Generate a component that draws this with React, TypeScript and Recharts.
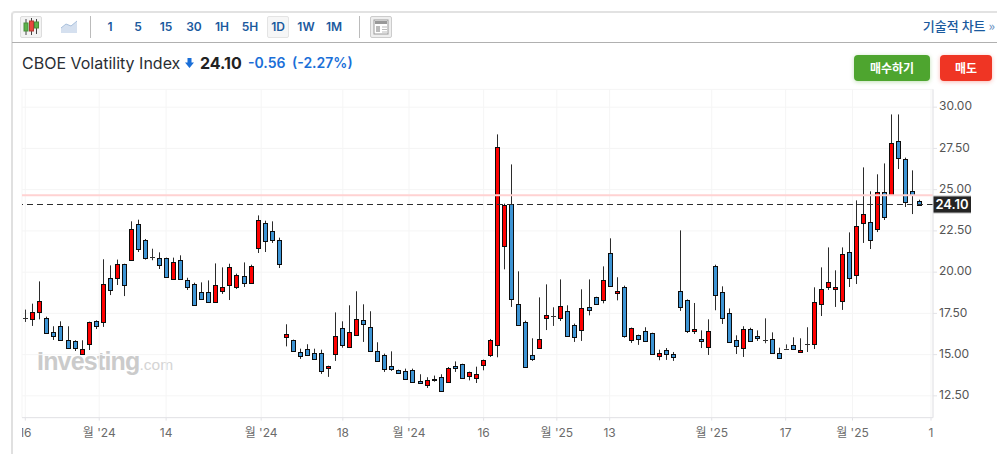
import {
  Bar,
  CartesianGrid,
  ComposedChart,
  ReferenceLine,
  XAxis,
  YAxis,
} from "recharts";

const opens = [
  17.2, 17.18, 17.58, 17.24, 16.39, 16.76, 15.91, 15.85, 15.06, 15.67, 17.06, 17.0, 19.66, 19.66, 20.51, 20.76,
  22.94, 21.97, 20.94, 20.88, 20.88, 19.6, 20.76, 19.54, 19.3, 18.82, 18.82, 18.21, 18.88, 19.24, 19.12, 19.79,
  19.36, 21.48, 23.0, 22.51, 21.97, 16.09, 15.91, 15.18, 15.36, 15.12, 15.12, 14.21, 15.06, 16.64, 15.48, 16.21,
  17.12, 16.7, 15.24, 15.0, 14.33, 14.09, 14.03, 14.09, 13.42, 13.18, 13.48, 13.67, 13.36, 14.33, 14.45, 13.73,
  13.61, 14.39, 15.0, 15.61, 21.6, 24.15, 18.09, 17.0, 15.0, 15.42, 17.24, 17.36, 17.24, 17.67, 16.82, 16.51,
  17.91, 18.51, 18.33, 21.18, 18.74, 19.12, 15.91, 16.21, 16.45, 16.33, 14.94, 15.3, 15.06, 18.88, 18.33, 16.45,
  15.97, 15.48, 20.39, 18.82, 17.54, 15.91, 15.42, 16.58, 16.15, 15.91, 15.97, 15.12, 15.36, 15.6, 15.18, 15.67,
  15.67, 18.09, 19.12, 19.0, 18.27, 21.24, 19.85, 23.0, 23.06, 22.63, 24.88, 24.68, 27.97, 26.88, 24.94, 24.33,
];
const highs = [
  17.73, 18.09, 19.44, 17.3, 16.72, 17.02, 16.72, 15.87, 15.87, 17.0, 17.08, 20.78, 20.41, 20.76, 20.51, 23.08,
  23.18, 22.01, 21.42, 21.2, 20.88, 20.88, 21.02, 19.66, 19.36, 19.38, 19.5, 20.53, 20.29, 20.51, 19.91, 20.59,
  20.45, 23.44, 23.12, 23.08, 22.09, 16.84, 15.91, 15.36, 15.63, 15.36, 15.3, 14.33, 17.56, 17.02, 17.99, 18.84,
  18.05, 17.63, 15.75, 15.06, 15.2, 14.09, 14.15, 14.15, 13.81, 13.63, 13.73, 13.81, 14.25, 14.59, 14.45, 13.97,
  14.27, 14.7, 15.95, 28.35, 24.15, 26.53, 20.05, 17.06, 15.99, 18.47, 19.26, 17.87, 19.56, 17.99, 16.88, 18.96,
  19.56, 18.51, 20.35, 22.05, 19.69, 19.18, 16.64, 16.21, 16.66, 16.33, 15.3, 15.4, 15.16, 22.53, 18.35, 18.13,
  16.47, 17.14, 20.45, 19.14, 17.8, 16.17, 16.72, 16.63, 16.47, 17.2, 16.35, 15.42, 15.62, 16.05, 15.99, 16.66,
  19.08, 20.29, 21.5, 20.11, 21.5, 22.41, 24.35, 26.35, 24.9, 25.93, 26.59, 29.56, 29.56, 26.94, 26.17, 24.39,
];
const lows = [
  16.98, 16.74, 17.14, 16.27, 15.89, 15.85, 15.36, 15.22, 14.98, 15.28, 16.55, 16.68, 18.61, 19.22, 18.55, 20.76,
  21.22, 20.76, 20.72, 20.19, 19.71, 19.54, 19.54, 18.92, 18.03, 18.37, 18.15, 18.21, 18.68, 18.31, 18.98, 19.1,
  19.36, 21.16, 21.22, 21.77, 20.25, 15.5, 15.24, 14.74, 15.0, 14.74, 13.83, 13.65, 14.62, 15.42, 15.4, 16.13,
  15.77, 15.24, 14.64, 13.95, 14.01, 13.91, 13.54, 13.36, 13.28, 12.98, 13.36, 12.74, 13.36, 13.95, 13.61, 13.44,
  13.28, 14.05, 14.86, 14.84, 20.17, 17.89, 16.82, 14.27, 14.62, 15.34, 16.49, 16.74, 17.04, 16.13, 15.77, 15.83,
  17.38, 18.03, 18.11, 19.18, 18.29, 16.03, 15.71, 15.59, 15.85, 15.0, 14.66, 14.68, 14.62, 17.65, 16.31, 16.25,
  15.4, 14.98, 17.69, 16.86, 15.79, 15.04, 14.86, 15.81, 15.83, 15.69, 15.04, 14.8, 15.36, 15.36, 15.1, 15.16,
  15.34, 17.34, 18.92, 17.89, 17.71, 19.1, 19.28, 21.77, 21.4, 22.43, 23.16, 24.68, 26.25, 23.95, 23.52, 24.03,
];
const closes = [
  17.2, 17.6, 18.27, 16.33, 16.15, 15.91, 15.42, 15.42, 15.36, 17.0, 16.76, 19.3, 18.94, 20.51, 19.24, 22.63,
  21.42, 20.88, 20.94, 20.45, 19.73, 20.64, 19.6, 19.12, 18.03, 18.39, 18.21, 19.24, 19.12, 20.33, 19.85, 19.36,
  20.39, 23.18, 21.91, 21.97, 20.51, 16.27, 15.24, 14.94, 15.0, 14.76, 14.03, 14.33, 16.15, 15.61, 16.39, 17.18,
  16.86, 15.24, 14.64, 14.15, 14.15, 13.91, 13.54, 13.36, 13.28, 13.48, 13.54, 12.82, 14.21, 14.21, 13.61, 13.97,
  13.85, 14.7, 15.91, 27.6, 24.09, 18.39, 16.82, 14.27, 14.76, 15.97, 17.42, 17.36, 17.97, 16.15, 16.09, 17.85,
  17.73, 18.09, 19.54, 19.18, 18.84, 16.15, 16.64, 15.97, 15.85, 15.06, 15.1, 15.06, 14.88, 17.89, 16.45, 16.58,
  15.85, 16.45, 18.64, 17.24, 15.79, 15.55, 16.58, 15.85, 16.03, 15.91, 15.1, 14.82, 15.36, 15.36, 15.3, 15.67,
  18.21, 19.0, 19.42, 19.12, 21.12, 19.67, 22.82, 23.54, 21.97, 24.88, 23.36, 27.85, 26.94, 24.27, 24.7, 24.1,
];

const xTickPositions = [0, 10.5, 20, 33.5, 45.1, 54.5, 65.1, 75.5, 83, 97.5, 108, 117.5, 128.65];
const xTickLabels = ["16", "월 '24", "14", "월 '24", "18", "월 '24", "16", "월 '25", "13", "월 '25", "17", "월 '25", "1"];
const priceTicks = [12.5, 15, 17.5, 20, 22.5, 25, 27.5, 30];
const intervals = ["1", "5", "15", "30", "1H", "5H", "1D", "1W", "1M"];
const lastPrice = 24.1;
const prevClose = 24.66;

const data = opens.map((open, i) => ({
  i,
  open,
  high: highs[i],
  low: lows[i],
  close: closes[i],
}));

const FONT = "Inter, 'Noto Sans CJK KR', sans-serif";
const KR = "'Noto Sans CJK KR', Inter, sans-serif";
const LINK = "#1b5a9e";

const Candle = (props: any) => {
  const { x, y, width, height, payload } = props;
  const { open, high, low, close } = payload;
  const k = height / (high - low);
  const yOf = (v: number) => y + (high - v) * k;
  const cx = Math.round(x + width / 2);
  const top = Math.round(yOf(Math.max(open, close)));
  const bottom = Math.round(yOf(Math.min(open, close)));
  if (open === close) {
    return (
      <g>
        <line x1={cx + 0.5} x2={cx + 0.5} y1={y} y2={y + height} stroke="#333" />
        <line x1={cx - 2} x2={cx + 3} y1={top + 0.5} y2={top + 0.5} stroke="#333" />
      </g>
    );
  }
  return (
    <g>
      <line x1={cx + 0.5} x2={cx + 0.5} y1={y} y2={y + height} stroke="#2b2b2b" />
      <rect
        x={cx - 1.5}
        y={top + 0.5}
        width={4}
        height={Math.max(bottom - top, 1)}
        fill={close > open ? "#ff0000" : "#3d94d4"}
        stroke="#0c0c0c"
      />
    </g>
  );
};

const DateTick = (props: any) => {
  const { x, y, index } = props;
  return (
    <text
      x={x}
      y={y + 14}
      textAnchor="middle"
      fill="#6b6b6b"
      fontSize={12}
      fontFamily={FONT}
      clipPath="url(#leftEdge)"
    >
      {xTickLabels[index]}
    </text>
  );
};

const PriceTag = (props: any) => {
  const { x, y, width } = props.viewBox;
  const left = x + width;
  return (
    <g>
      <rect x={left} y={y - 9} width={38} height={18} fill="#bdbdbd" />
      <rect x={left} y={y - 8} width={38} height={16} fill="#242424" />
      <text
        x={left + 19}
        y={y + 4.5}
        textAnchor="middle"
        fill="#fff"
        fontSize={13}
        fontWeight={600}
        fontFamily={FONT}
      >
        {lastPrice.toFixed(2)}
      </text>
    </g>
  );
};

const Header = () => (
  <>
    <div style={{ position: "absolute", left: 11, top: 11, right: 0, bottom: 0, borderLeft: "2px solid #e0e0e0", borderTop: "2px solid #e2e2e2", borderTopLeftRadius: 4 }} />
    <div style={{ position: "absolute", left: 12, top: 42, right: 0, height: 1, background: "#b0b0b0" }} />
    <div style={{ position: "absolute", left: 20, top: 16, width: 20, height: 20, border: "1px solid #ddd", borderRadius: 2, background: "#f3f3f3" }}>
      <svg width={20} height={20}>
        <path d="M5 2v16M10.5 1v17M15.5 2v15" stroke="#444" strokeWidth={1} />
        <rect x={3} y={6} width={4} height={8} fill="#5cb24a" stroke="#4a8d3b" />
        <rect x={8.5} y={4} width={4} height={10} fill="#e8473f" stroke="#b13a33" />
        <rect x={13.5} y={5} width={4} height={6} fill="#5cb24a" stroke="#4a8d3b" />
      </svg>
    </div>
    <svg style={{ position: "absolute", left: 60, top: 20 }} width={18} height={14}>
      <path d="M1 8L6 4L11 6L17 1V13H1Z" fill="#d5e0ef" />
      <path d="M1 8L6 4L11 6L17 1" stroke="#a9c0dc" fill="none" />
    </svg>
    <div style={{ position: "absolute", left: 90, top: 16, width: 1, height: 22, background: "#bbb" }} />
    <div style={{ position: "absolute", left: 359, top: 16, width: 1, height: 22, background: "#bbb" }} />
    <div style={{ position: "absolute", left: 267, top: 16, width: 20, height: 20, border: "1px solid #e4e4e4", borderRadius: 2, background: "#f6f6f6" }} />
    {intervals.map((t, i) => (
      <div
        key={t}
        style={{ position: "absolute", left: 96 + i * 28, top: 19, width: 28, textAlign: "center", font: `600 12px ${FONT}`, color: LINK, lineHeight: "16px" }}
      >
        {t}
      </div>
    ))}
    <div style={{ position: "absolute", left: 370, top: 16, width: 20, height: 20, border: "1px solid #ccc", borderRadius: 2, background: "#eee" }}>
      <svg width={20} height={20}>
        <rect x={3} y={3} width={14} height={14} fill="#fff" stroke="#999" />
        <rect x={4} y={4} width={12} height={3} fill="#999" />
        <rect x={5} y={9} width={4} height={6} fill="#bbb" />
        <path d="M11 10h5M11 12.5h5M11 15h5" stroke="#bbb" />
      </svg>
    </div>
    <div style={{ position: "absolute", right: 2, top: 18, font: `500 13px ${KR}`, color: LINK, lineHeight: "16px" }}>
      기술적 차트 <span style={{ color: "#6f96c4" }}>»</span>
    </div>
    <div style={{ position: "absolute", left: 22, top: 53, font: `400 16px ${FONT}`, color: "#2a2e33", lineHeight: "20px", whiteSpace: "nowrap" }}>
      CBOE Volatility Index
    </div>
    <svg style={{ position: "absolute", left: 185, top: 58 }} width={9} height={10}>
      <path d="M2.5 0h4v4.5H9L4.5 10L0 4.5h2.5Z" fill="#1a6fd8" />
    </svg>
    <div style={{ position: "absolute", left: 200, top: 52, font: `700 16px ${FONT}`, color: "#222", lineHeight: "22px" }}>
      24.10
    </div>
    <div style={{ position: "absolute", left: 248, top: 53, font: `600 14px ${FONT}`, color: "#1a6fd8", lineHeight: "20px", whiteSpace: "nowrap" }}>
      -0.56
    </div>
    <div style={{ position: "absolute", left: 292, top: 53, font: `600 14px ${FONT}`, color: "#1a6fd8", lineHeight: "20px", whiteSpace: "nowrap" }}>
      (-2.27%)
    </div>
    <div style={{ position: "absolute", left: 854, top: 55, width: 76, height: 26, borderRadius: 4, background: "#4ea52f", color: "#fff", font: `700 12px/26px ${KR}`, textAlign: "center", boxShadow: "0 1px 4px rgba(78,165,47,0.35)" }}>
      매수하기
    </div>
    <div style={{ position: "absolute", left: 940, top: 55, width: 52, height: 26, borderRadius: 4, background: "#ef3524", color: "#fff", font: `700 12px/26px ${KR}`, textAlign: "center", boxShadow: "0 1px 4px rgba(239,53,36,0.35)" }}>
      매도
    </div>
    <div style={{ position: "absolute", left: 37, top: 345, whiteSpace: "nowrap", color: "#cbcbcb" }}>
      <span style={{ font: "700 25px/32px 'Liberation Sans', sans-serif", letterSpacing: -0.8 }}>Investing</span>
      <span style={{ font: "400 15.5px/32px 'Liberation Sans', sans-serif", color: "#d4d4d4" }}>.com</span>
    </div>
  </>
);

export default function App() {
  return (
    <div style={{ position: "absolute", left: 0, top: 0, width: 997, height: 454, overflow: "hidden", background: "#fff" }}>
      <Header />
      <div style={{ position: "absolute", left: 0, top: 0 }}>
        <ComposedChart
          width={997}
          height={454}
          data={data}
          margin={{ top: 89.35, right: 0, bottom: 6.35, left: 22 }}
          style={{ background: "transparent" }}
        >
          <defs>
            <clipPath id="leftEdge">
              <rect x={22} y={0} width={975} height={454} />
            </clipPath>
          </defs>
          <CartesianGrid stroke="#f5f5f5" />
          <XAxis
            dataKey="i"
            type="number"
            domain={[-0.47, 128.93]}
            ticks={xTickPositions}
            interval={0}
            height={30}
            stroke="#e2e2e6"
            tickSize={3}
            tick={<DateTick />}
            allowDataOverflow
          />
          <YAxis
            orientation="right"
            width={64}
            domain={[11.18, 31.08]}
            ticks={priceTicks}
            interval={0}
            stroke="#e2e2e6"
            tickSize={4}
            tickMargin={2}
            tickFormatter={(v: number) => v.toFixed(2)}
            tick={{ fill: "#555", fontSize: 12, fontFamily: FONT, dy: -1 }}
            allowDataOverflow
          />
          <ReferenceLine y={prevClose} stroke="#ffd2d2" strokeWidth={2} />
          <ReferenceLine
            y={lastPrice}
            stroke="#2e2e2e"
            strokeDasharray="6 4"
            label={<PriceTag />}
          />
          <Bar
            dataKey={(d: any) => [d.low, d.high]}
            barSize={5}
            shape={<Candle />}
            isAnimationActive={false}
          />
        </ComposedChart>
      </div>
    </div>
  );
}
